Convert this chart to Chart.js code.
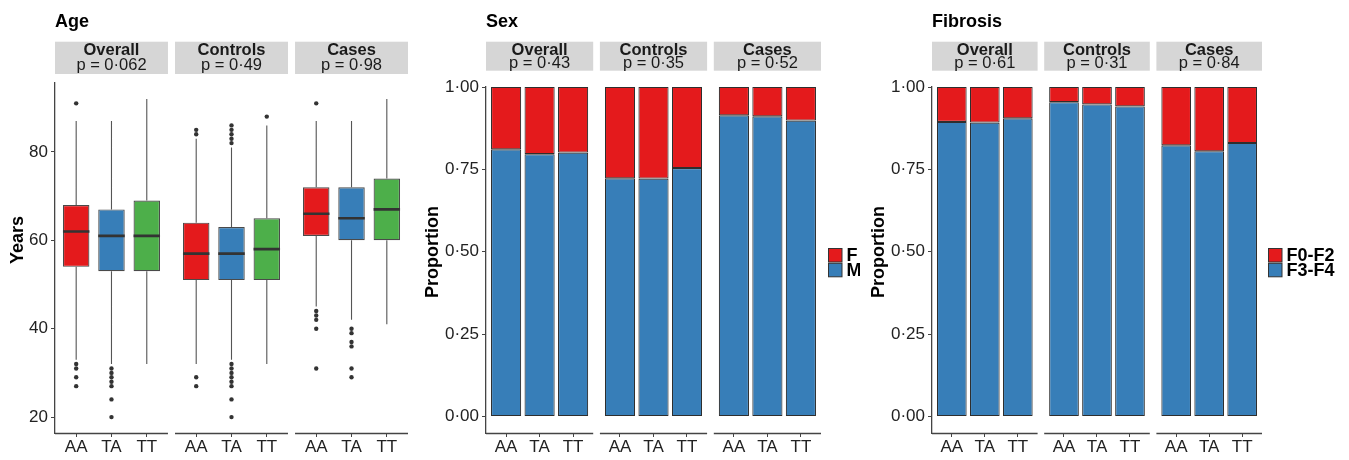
<!DOCTYPE html>
<html>
<head>
<meta charset="utf-8">
<script src="https://cdn.jsdelivr.net/npm/chart.js@4.4.1/dist/chart.umd.min.js"></script>
<style>
  html, body { margin: 0; padding: 0; background: #fff; }
  #wrap { position: relative; width: 1349px; height: 460px; overflow: hidden; }
  .panel { position: absolute; top: 0; height: 460px; }
  canvas { display: block; }
</style>
</head>
<body>
<div id="wrap">
  <div class="panel" style="left:0px;width:420px"><canvas id="age" width="420" height="460"></canvas></div>
  <div class="panel" style="left:420px;width:440px"><canvas id="sex" width="440" height="460"></canvas></div>
  <div class="panel" style="left:860px;width:489px"><canvas id="fib" width="489" height="460"></canvas></div>
</div>
<script>
// ---- data ----
const genotypes = ['AA', 'TA', 'TT'];
const groups = ['Overall', 'Controls', 'Cases'];
const genotypeColors = ['#E41A1C', '#377EB8', '#4DAF4A'];

// Age (years): box statistics, rows = group, columns = genotype
const ageQ1 = [[54, 53, 53], [51, 51, 51], [61, 60, 60]];
const ageMedian = [[62, 61, 61], [57, 57, 58], [66, 65, 67]];
const ageQ3 = [[68, 67, 69], [64, 63, 65], [72, 72, 74]];
const ageWhiskerLow = [[33, 32, 32], [32, 33, 32], [45, 42, 41]];
const ageWhiskerHigh = [[87, 87, 92], [83, 81, 86], [87, 87, 92]];
const ageOutliers = [
  [[91, 32, 31, 29, 27], [31, 30, 29, 28, 27, 24, 20], []],
  [[85, 84, 29, 27], [86, 85, 84, 83, 82, 32, 31, 30, 29, 28, 27, 24, 20], [88]],
  [[91, 44, 43, 42, 40, 31], [40, 39, 37, 36, 31, 29], []]
];
const agePValues = ['0·062', '0·49', '0·98'];
const ageTicks = [20, 40, 60, 80];

// Sex: proportion of males per group and genotype
const sexMale = [[0.811, 0.796, 0.801], [0.723, 0.722, 0.754], [0.914, 0.911, 0.898]];
const sexPValues = ['0·43', '0·35', '0·52'];

// Fibrosis: proportion F3-F4 per group and genotype
const fibAdvanced = [[0.894, 0.892, 0.905], [0.954, 0.947, 0.941], [0.823, 0.805, 0.830]];
const fibPValues = ['0·61', '0·31', '0·84'];

const proportionTicks = [0, 0.25, 0.5, 0.75, 1];
const colorTop = '#E41A1C';
const colorBottom = '#377EB8';

// ---- layout helpers ----
const FONT = "'Liberation Sans', Arial, Helvetica, sans-serif";
Chart.defaults.font.family = FONT;
const FACET_W = 3.2, FACET_GAP = 0.2;
const X_MAX = groups.length * FACET_W + (groups.length - 1) * FACET_GAP;
const catX = (g, k) => g * (FACET_W + FACET_GAP) + 0.6 + k;
const tickPositions = [];
groups.forEach((g, gi) => genotypes.forEach((t, k) => tickPositions.push(catX(gi, k))));

function decorPlugin(cfg) {
  return {
    id: 'facetDecor',
    afterDraw(chart) {
      const { ctx, chartArea } = chart;
      const x = chart.scales.x;
      ctx.save();
      // panel title
      ctx.fillStyle = '#000';
      ctx.font = 'bold 18px ' + FONT;
      ctx.textAlign = 'left';
      ctx.textBaseline = 'alphabetic';
      ctx.fillText(cfg.title, chartArea.left, 27);
      // y-axis title
      ctx.save();
      ctx.translate(cfg.yTitleX, cfg.yTitleY);
      ctx.rotate(-Math.PI / 2);
      ctx.textAlign = 'center';
      ctx.textBaseline = 'middle';
      ctx.fillText(cfg.yTitle, 0, 0);
      ctx.restore();
      // facet strips and per-facet x axis lines
      groups.forEach((g, gi) => {
        const x0 = x.getPixelForValue(gi * (FACET_W + FACET_GAP));
        const x1 = x.getPixelForValue(gi * (FACET_W + FACET_GAP) + FACET_W);
        ctx.fillStyle = '#D6D6D6';
        ctx.fillRect(x0, cfg.stripTop, x1 - x0, cfg.stripBottom - cfg.stripTop);
        ctx.fillStyle = '#1a1a1a';
        ctx.textAlign = 'center';
        ctx.textBaseline = 'alphabetic';
        ctx.font = 'bold 16.5px ' + FONT;
        ctx.fillText(g, (x0 + x1) / 2, cfg.line1);
        ctx.font = '16.5px ' + FONT;
        ctx.fillText('p = ' + cfg.pValues[gi], (x0 + x1) / 2, cfg.line2);
        ctx.strokeStyle = '#444';
        ctx.lineWidth = 1.3;
        ctx.beginPath();
        ctx.moveTo(x0, chartArea.bottom + 0.5);
        ctx.lineTo(x1, chartArea.bottom + 0.5);
        ctx.stroke();
      });
      // legend
      if (cfg.legend) {
        cfg.legend.forEach((item, i) => {
          const ky = 248.5 + i * 14.8;
          ctx.fillStyle = item.color;
          ctx.fillRect(408.5, ky, 13.5, 13.5);
          ctx.strokeStyle = '#333';
          ctx.lineWidth = 1;
          ctx.strokeRect(408.5, ky, 13.5, 13.5);
          ctx.fillStyle = '#000';
          ctx.font = 'bold 18px ' + FONT;
          ctx.textAlign = 'left';
          ctx.textBaseline = 'middle';
          ctx.fillText(item.label, 426.5, ky + 7.5);
        });
      }
      ctx.restore();
    }
  };
}

function scalesFor(yOpts, yWidth) {
  return {
    x: {
      type: 'linear', min: 0, max: X_MAX, offset: false, bounds: 'data',
      grid: { display: true, drawOnChartArea: false, drawTicks: true, tickLength: 4, color: '#444', lineWidth: 1, offset: false },
      border: { display: false },
      afterBuildTicks: s => { s.ticks = tickPositions.map(v => ({ value: v })); },
      afterFit: s => { s.height = 27; },
      ticks: { autoSkip: false, maxRotation: 0, minRotation: 0, padding: 0, color: '#222',
               font: { family: FONT, size: 17 }, callback: (v, i) => genotypes[i % genotypes.length] }
    },
    y: Object.assign({
      type: 'linear', bounds: 'data',
      grid: { display: true, drawOnChartArea: false, drawTicks: true, tickLength: 4, color: '#444', lineWidth: 1 },
      border: { display: true, color: '#444', width: 1.3 },
      afterFit: s => { s.width = yWidth; }
    }, yOpts)
  };
}

function baseOptions(top, right) {
  return {
    responsive: false,
    animation: false,
    events: [],
    layout: { padding: { top: top, right: right, bottom: 0, left: 0 } },
    plugins: { legend: { display: false }, tooltip: { enabled: false } }
  };
}

// ---- Age: box plots ----
(function () {
  const boxData = [], boxColors = [], whiskerData = [], medianData = [], outlierData = [];
  groups.forEach((g, gi) => genotypes.forEach((t, k) => {
    const x = catX(gi, k);
    boxData.push({ x: x, y: [ageQ1[gi][k], ageQ3[gi][k]] });
    boxColors.push(genotypeColors[k]);
    whiskerData.push({ x: x, y: ageWhiskerLow[gi][k] }, { x: x, y: ageQ1[gi][k] }, { x: x, y: null },
                     { x: x, y: ageQ3[gi][k] }, { x: x, y: ageWhiskerHigh[gi][k] }, { x: x, y: null });
    medianData.push({ x: x - 0.375, y: ageMedian[gi][k] }, { x: x + 0.375, y: ageMedian[gi][k] }, { x: x, y: null });
    ageOutliers[gi][k].forEach(v => outlierData.push({ x: x, y: v }));
  }));

  const options = baseOptions(83, 12);
  options.scales = scalesFor({
    min: 16.4, max: 95.6,
    afterBuildTicks: s => { s.ticks = ageTicks.map(v => ({ value: v })); },
    ticks: { padding: 3, color: '#222', font: { family: FONT, size: 17 } }
  }, 55);

  new Chart(document.getElementById('age'), {
    type: 'bar',
    data: {
      datasets: [
        { type: 'line', data: whiskerData, borderColor: '#555', borderWidth: 1.1, pointRadius: 0, spanGaps: false, order: 3 },
        { type: 'bar', data: boxData, backgroundColor: boxColors, borderColor: '#4a4a4a', borderWidth: 1.2,
          borderSkipped: false, categoryPercentage: 1, barPercentage: 0.75, order: 2 },
        { type: 'line', data: medianData, borderColor: '#333', borderWidth: 2.6, pointRadius: 0, spanGaps: false, order: 1 },
        { type: 'scatter', data: outlierData, backgroundColor: '#333', borderColor: '#333', pointRadius: 2.2, borderWidth: 0, order: 0 }
      ]
    },
    options: options,
    plugins: [decorPlugin({
      title: 'Age', yTitle: 'Years', yTitleX: 18.5, yTitleY: 240,
      stripTop: 41.7, stripBottom: 74, line1: 54.5, line2: 70, pValues: agePValues
    })]
  });
})();

// ---- proportion panels: stacked bars ----
function proportionChart(id, bottomValues, labels, pValues, title, yTitleX, yWidth, right) {
  const bottomData = [], topData = [];
  groups.forEach((g, gi) => genotypes.forEach((t, k) => {
    const x = catX(gi, k);
    bottomData.push({ x: x, y: [0, bottomValues[gi][k]] });
    topData.push({ x: x, y: [bottomValues[gi][k], 1] });
  }));
  const options = baseOptions(87, right);
  options.scales = scalesFor({
    min: -0.05, max: 1,
    afterBuildTicks: s => { s.ticks = proportionTicks.map(v => ({ value: v })); },
    ticks: { padding: 3, color: '#222', font: { family: FONT, size: 17 },
             callback: v => v.toFixed(2).replace('.', '·') }
  }, yWidth);
  const barStyle = { borderColor: '#2e2e2e', borderWidth: 1.1, borderSkipped: false,
                     categoryPercentage: 1, barPercentage: 0.9, grouped: false };
  new Chart(document.getElementById(id), {
    type: 'bar',
    data: {
      datasets: [
        Object.assign({ label: labels[1], data: bottomData, backgroundColor: colorBottom }, barStyle),
        Object.assign({ label: labels[0], data: topData, backgroundColor: colorTop }, barStyle)
      ]
    },
    options: options,
    plugins: [decorPlugin({
      title: title, yTitle: 'Proportion', yTitleX: yTitleX, yTitleY: 252,
      stripTop: 41.7, stripBottom: 70.7, line1: 55, line2: 67.5, pValues: pValues,
      legend: [{ label: labels[0], color: colorTop }, { label: labels[1], color: colorBottom }]
    })]
  });
}

proportionChart('sex', sexMale, ['F', 'M'], sexPValues, 'Sex', 13.5, 66, 39);
proportionChart('fib', fibAdvanced, ['F0-F2', 'F3-F4'], fibPValues, 'Fibrosis', 19, 72, 87);
</script>
</body>
</html>
